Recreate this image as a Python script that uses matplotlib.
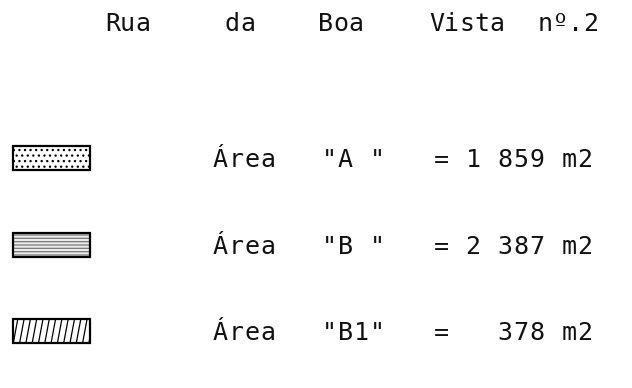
import numpy as np
import matplotlib
matplotlib.use('Agg')
import matplotlib.pyplot as plt
from matplotlib.patches import Rectangle

# title words and the three area rows
title_words = ['Rua', 'da', 'Boa', 'Vista', 'nº.2']
area_words = ['Área', 'Área', 'Área']
area_names = ['"A "', '"B "', '"B1"']
area_values = ['= 1 859 m2', '= 2 387 m2', '=   378 m2']

# layout (pixel units, y down)
W, H = 632, 388
title_x = [105, 225, 318, 429, 538]
title_y = 31
row_y = [158, 245, 331]
box_x, box_w, box_h = 13, 77, 24
pitch = 16
fs = 18
font = ['DejaVu Sans Mono']

plt.rcParams['hatch.linewidth'] = 0.9

fig = plt.figure(figsize=(W / 100, H / 100), dpi=100)
ax = fig.add_axes([0, 0, 1, 1])
ax.set_xlim(0, W)
ax.set_ylim(H, 0)
ax.axis('off')


def put(x, y, s, p=pitch):
    # typewriter style: fixed pitch, one glyph per cell
    for i, ch in enumerate(s):
        if ch == ' ':
            continue
        ax.text(x + i * p + p / 2, y, ch, ha='center', va='baseline',
                fontsize=fs, family=font, color='#111111')


for x, w in zip(title_x, title_words):
    put(x, title_y, w, 15)

for i, y in enumerate(row_y):
    put(212, y + 9, area_words[i])
    put(321, y + 9, area_names[i])
    put(433, y + 9, area_values[i])

# legend boxes
y0 = row_y[0] - box_h / 2
ax.add_patch(Rectangle((box_x, y0), box_w, box_h, facecolor='white', edgecolor='black',
                       lw=0, hatch='...'))
ax.add_patch(Rectangle((box_x, y0), box_w, box_h, fill=False, edgecolor='black', lw=1.6))

y1 = row_y[1] - box_h / 2
ax.add_patch(Rectangle((box_x, y1), box_w, box_h, facecolor='#ececec', edgecolor='#777777',
                       lw=0, hatch='-----'))
ax.add_patch(Rectangle((box_x, y1), box_w, box_h, fill=False, edgecolor='black', lw=1.6))

y2 = row_y[2] - box_h / 2
clip = Rectangle((box_x, y2), box_w, box_h, facecolor='white', edgecolor='black', lw=1.6)
ax.add_patch(clip)
for xs in np.arange(box_x - 6, box_x + box_w + 6, 6.3):
    ln, = ax.plot([xs, xs + 4.5], [y2 + box_h, y2], color='black', lw=0.9)
    ln.set_clip_path(clip)

fig.savefig('out.png', dpi=100, facecolor='white')
